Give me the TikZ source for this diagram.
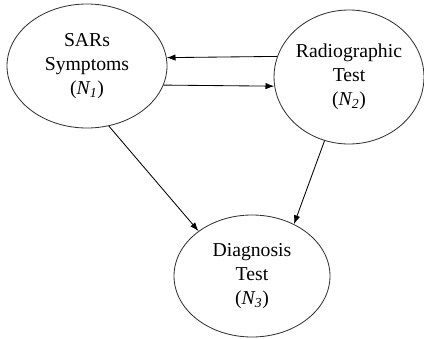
\documentclass[tikz,border=0pt]{standalone}
\usepackage{fontspec}
\setmainfont{Liberation Serif}
\usetikzlibrary{shapes.geometric,arrows.meta}

\begin{document}
\begin{tikzpicture}[
	state/.style={draw=black!80,line width=0.6pt,ellipse,align=center,inner sep=0pt,font=\fontsize{14}{17}\selectfont},
	link/.style={-{Latex[length=2.2mm,width=1.6mm]},line width=0.6pt}]
			\useasboundingbox (0,0) rectangle (10.6,8.45);
			\node[state,minimum width=4cm,minimum height=3.1cm] (sym) at (2.175,6.8) {SARs\\Symptoms\\(\textit{N\textsubscript{1}})};
			\node[state,minimum width=3.5cm,minimum height=3.35cm] (rad) at (8.725,6.525) {Radiographic\\Test\\(\textit{N\textsubscript{2}})};
			\node[state,minimum width=3.9cm,minimum height=3.05cm] (diag) at (6.3,1.55) {Diagnosis\\Test\\(\textit{N\textsubscript{3}})};
			\draw[link] (rad.164)--(sym.6);
			\draw[link] (sym.-14)--(rad.187);
			\draw[link] (sym.-70)--(diag.140);
			\draw[link] (rad.-111)--(diag.51);
			\end{tikzpicture}
\end{document}
